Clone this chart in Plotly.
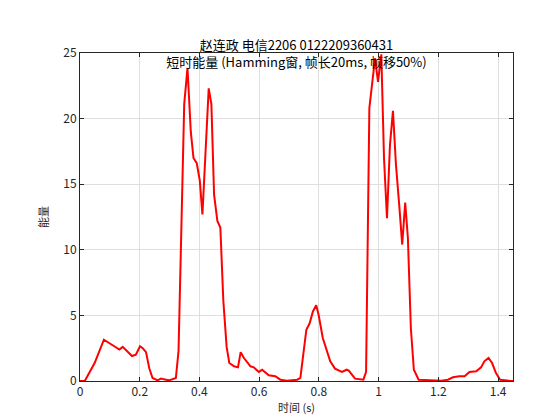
import plotly.graph_objects as go

# short-time energy, frame times (s) and values
t = [0, 0.016, 0.049, 0.08, 0.104, 0.132, 0.143, 0.174, 0.187, 0.201, 0.21, 0.221, 0.232, 0.243,
     0.26, 0.271, 0.288, 0.299, 0.321, 0.33, 0.349, 0.36, 0.371, 0.38, 0.391, 0.401, 0.41, 0.421,
     0.431, 0.44, 0.449, 0.46, 0.47, 0.48, 0.491, 0.5, 0.516, 0.529, 0.538, 0.549, 0.571, 0.582,
     0.599, 0.61, 0.632, 0.654, 0.671, 0.693, 0.727, 0.738, 0.758, 0.769, 0.78, 0.791, 0.799,
     0.813, 0.838, 0.854, 0.877, 0.893, 0.9, 0.921, 0.949, 0.958, 0.969, 0.988, 0.998, 1.009,
     1.018, 1.028, 1.038, 1.048, 1.058, 1.069, 1.079, 1.089, 1.098, 1.108, 1.118, 1.134, 1.21,
     1.232, 1.249, 1.27, 1.288, 1.304, 1.327, 1.343, 1.354, 1.368, 1.38, 1.393, 1.407, 1.438, 1.45]
energy = [0, 0, 1.37, 3.15, 2.8, 2.4, 2.6, 1.9, 2.0, 2.65, 2.5, 2.2, 0.97, 0.23,
          0.05, 0.18, 0.1, 0.05, 0.23, 2.3, 21.1, 23.86, 19.0, 17.0, 16.6, 15.3, 12.7, 17.5,
          22.3, 21.1, 14.2, 12.2, 11.7, 6.1, 2.6, 1.37, 1.12, 1.04, 2.2, 1.75, 1.12, 1.04,
          0.69, 0.86, 0.43, 0.36, 0.1, 0.02, 0.1, 0.23, 3.9, 4.4, 5.3, 5.77, 5.05,
          3.28, 1.5, 0.94, 0.69, 0.86, 0.79, 0.18, 0.1, 0.7, 20.8, 24.6, 22.8, 24.9,
          17.0, 12.4, 18.0, 20.6, 16.5, 13.4, 10.4, 13.6, 10.9, 4.0, 0.86, 0.1, 0.02,
          0.1, 0.28, 0.36, 0.36, 0.69, 0.74, 1.04, 1.5, 1.75, 1.37, 0.6, 0.1, 0.02, 0]

font = "Noto Sans CJK SC, Liberation Sans, sans-serif"

fig = go.Figure(go.Scatter(x=t, y=energy, mode="lines",
                           line=dict(color="#ff0000", width=2)))

axis = dict(showline=True, mirror="ticks", linecolor="#262626", linewidth=1,
            ticks="inside", ticklen=4, tickcolor="#262626",
            showgrid=True, gridcolor="#dfdfdf", zeroline=False, automargin=False,
            tickfont=dict(size=12, color="#262626"))

fig.update_layout(
    width=559, height=419,
    margin=dict(l=72, r=54, t=45, b=46, autoexpand=False),
    paper_bgcolor="white", plot_bgcolor="white",
    font=dict(family=font, color="#262626"),
    showlegend=False,
    title=dict(text="赵连政 电信2206 0122209360431<br>短时能量 (Hamming窗, 帧长20ms, 帧移50%)",
               x=0.5, xanchor="center", xref="paper", y=1, yref="paper",
               yanchor="bottom", pad=dict(b=3),
               font=dict(size=13, color="#000000")),
    xaxis=dict(axis, range=[0, 1.45], tickvals=[0, 0.2, 0.4, 0.6, 0.8, 1, 1.2, 1.4],
               ticktext=["0", "0.2", "0.4", "0.6", "0.8", "1", "1.2", "1.4"],
               title=dict(text="时间 (s)", font=dict(size=11), standoff=4)),
    yaxis=dict(axis, range=[0, 25], tickvals=[0, 5, 10, 15, 20, 25],
               title=dict(text="能量", font=dict(size=11), standoff=12)),
)

fig.write_html("out.html")
